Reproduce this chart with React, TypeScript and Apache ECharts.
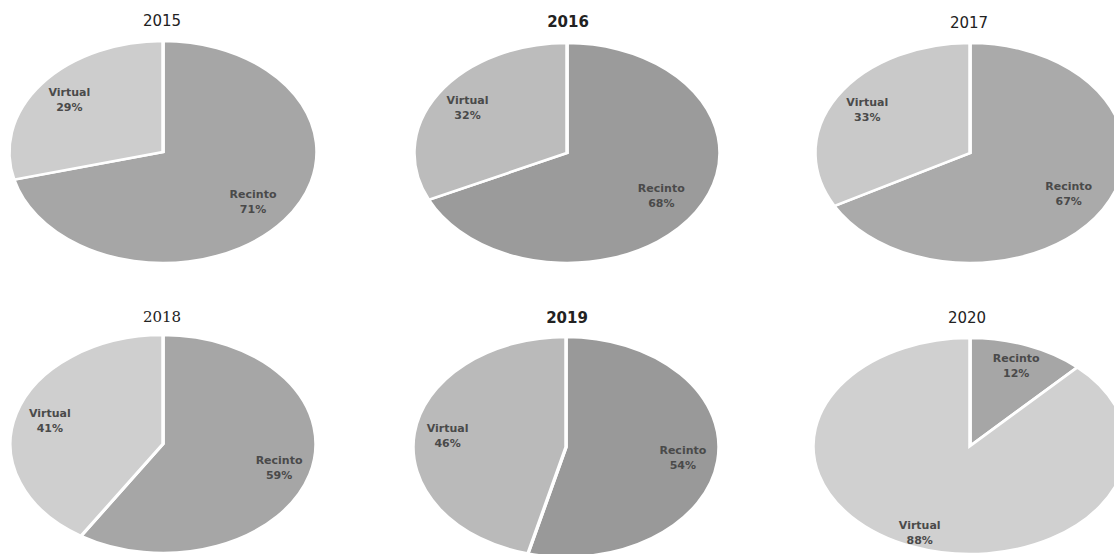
import React, { useEffect, useRef } from "react";
import * as echarts from "echarts";

// ---- data ----
const years = ["2015", "2016", "2017", "2018", "2019", "2020"];
const categories = ["Recinto", "Virtual"];
const recinto = [71, 68, 67, 59, 54, 12];
const virtual = [29, 32, 33, 41, 46, 88];

// ---- layout / style (per pie) ----
const layout = [
  { cx: 163, cy: 152, rx: 154, ry: 111, tx: 162, ty: 21, weight: "normal", family: "DejaVu Sans", lf: [0.74, 0.77] },
  { cx: 567, cy: 153, rx: 153, ry: 110, tx: 568, ty: 22, weight: "bold", family: "DejaVu Sans", lf: [0.73, 0.77] },
  { cx: 970, cy: 153, rx: 155, ry: 110, tx: 969, ty: 23, weight: "normal", family: "DejaVu Sans", lf: [0.74, 0.77] },
  { cx: 163, cy: 444, rx: 153, ry: 109, tx: 162, ty: 317, weight: "normal", family: "DejaVu Serif", lf: [0.79, 0.77] },
  { cx: 566, cy: 447, rx: 153, ry: 110, tx: 567, ty: 318, weight: "bold", family: "DejaVu Sans", lf: [0.77, 0.78] },
  { cx: 970, cy: 446, rx: 157, ry: 108, tx: 967, ty: 318, weight: "normal", family: "DejaVu Sans", lf: [0.8, 0.87] },
];
const sliceColors = [
  ["#a6a6a6", "#cdcdcd"],
  ["#9b9b9b", "#bcbcbc"],
  ["#aaaaaa", "#c9c9c9"],
  ["#a6a6a6", "#cfcfcf"],
  ["#999999", "#bababa"],
  ["#a6a6a6", "#d0d0d0"],
];

function buildOption() {
  const series: any[] = years.map((y, i) => {
    const values = [recinto[i], virtual[i]];
    const total = values.reduce((a, b) => a + b, 0);
    const L = layout[i];
    return {
      type: "custom",
      name: y,
      coordinateSystem: "none",
      data: values.map((v, k) => ({ name: categories[k], value: v })),
      renderItem: (params: any, api: any) => {
        const idx = params.dataIndex;
        const v = api.value(0);
        let start = 0;
        for (let k = 0; k < idx; k++) start += values[k];
        const f0 = start / total;
        const f1 = (start + v) / total;
        const a0 = -Math.PI / 2 + 2 * Math.PI * f0;
        const a1 = -Math.PI / 2 + 2 * Math.PI * f1;
        const mid = ((f0 + f1) / 2) * 2 * Math.PI;
        const lf = L.lf[idx];
        const lx = L.cx + L.rx * lf * Math.sin(mid);
        const ly = L.cy - L.ry * lf * Math.cos(mid);
        return {
          type: "group",
          children: [
            {
              type: "sector",
              x: L.cx,
              y: L.cy,
              scaleY: L.ry / L.rx,
              shape: { cx: 0, cy: 0, r: L.rx, r0: 0, startAngle: a0, endAngle: a1, clockwise: true },
              style: { fill: sliceColors[i][idx], stroke: "#ffffff", lineWidth: 3.5 },
            },
            {
              type: "text",
              x: lx,
              y: ly,
              style: {
                text: categories[idx] + "\n" + v + "%",
                align: "center",
                verticalAlign: "middle",
                fontSize: 11,
                fontWeight: "bold",
                fontFamily: "DejaVu Sans",
                lineHeight: 15,
                fill: "#4a4a4a",
              },
            },
          ],
        };
      },
    };
  });

  const title = years.map((y, i) => ({
    text: y,
    left: layout[i].tx,
    top: layout[i].ty - 8,
    textAlign: "center",
    padding: 0,
    textStyle: {
      fontSize: 15,
      fontWeight: layout[i].weight,
      fontFamily: layout[i].family,
      color: "#222222",
    },
  }));

  return {
    animation: false,
    backgroundColor: "#ffffff",
    title,
    series,
  };
}

export default function App() {
  const ref = useRef<HTMLDivElement>(null);
  useEffect(() => {
    if (!ref.current) return;
    const chart = echarts.init(ref.current, undefined, { renderer: "svg" });
    chart.setOption(buildOption() as any);
    return () => chart.dispose();
  }, []);
  return (
    <div
      ref={ref}
      style={{ position: "fixed", left: 0, top: 0, width: 1114, height: 554, background: "#fff" }}
    />
  );
}
